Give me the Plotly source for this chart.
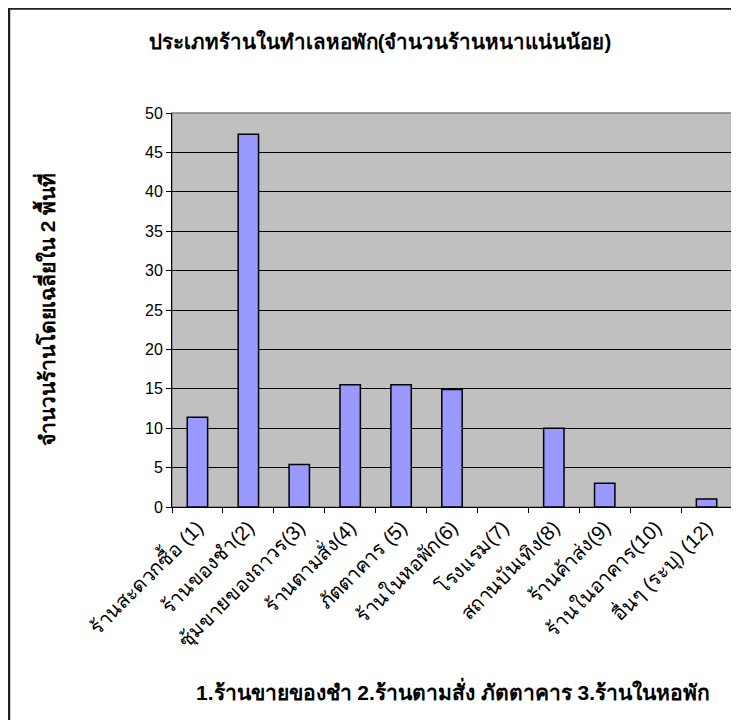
import plotly.graph_objects as go

categories = ["ร้านสะดวกซื้อ (1)", "ร้านของชำ(2)", "ซุ้มขายของถาวร(3)", "ร้านตามสั่ง(4)",
              "ภัตตาคาร (5)", "ร้านในหอพัก(6)", "โรงแรม(7)", "สถานบันเทิง(8)",
              "ร้านค้าส่ง(9)", "ร้านในอาคาร(10)", "อื่นๆ (ระบุ) (12)"]
values = [11.4, 47.3, 5.4, 15.5, 15.5, 14.9, 0, 10, 3, 0, 1]
title_text = "ประเภทร้านในทำเลหอพัก(จำนวนร้านหนาแน่นน้อย)"
ytitle = "จำนวนร้านโดยเฉลี่ยใน 2 พื้นที่"
note = "1.ร้านขายของชำ 2.ร้านตามสั่ง ภัตตาคาร 3.ร้านในหอพัก"

FONT = "Arial, Liberation Sans, sans-serif"

fig = go.Figure(go.Bar(
    x=categories, y=values, width=0.4,
    marker=dict(color="#9999FF",
                line=dict(color="black", width=[1.5 if v > 0 else 0 for v in values])),
))

OFF = 8  # page body margin
W, H = 739 - OFF, 720 - OFF
L, R, T, B = 172 - OFF, 7, 113 - OFF, 213
pw, ph = W - L - R, H - T - B

def px(x):  # reference pixel -> paper
    return (x - OFF - L) / pw

def py(y):
    return (H - B - (y - OFF)) / ph

fig.update_layout(
    width=W, height=H,
    margin=dict(l=L, r=R, t=T, b=B, autoexpand=False),
    paper_bgcolor="white", plot_bgcolor="#C0C0C0",
    showlegend=False,
    font=dict(family=FONT, size=15, color="black"),
    title=dict(text="<b>" + title_text + "</b>", x=px(380), xref="paper", xanchor="center",
               y=1 - (42 - OFF) / H, yanchor="middle", font=dict(size=20.5)),
    bargap=0.6,
)
fig.update_yaxes(range=[0, 50], dtick=5, showgrid=True, gridcolor="black", gridwidth=1,
                 ticks="outside", ticklen=5, tickcolor="black", showline=True,
                 linecolor="black", linewidth=1, zeroline=False, automargin=False,
                 tickfont=dict(size=16), fixedrange=True)
fig.update_xaxes(type="category", tickson="boundaries", ticks="outside", ticklen=5,
                 tickcolor="black", showline=True, linecolor="black", linewidth=1,
                 tickangle=-45, tickfont=dict(size=20), showgrid=False, automargin=False)

# plot-area border (top/right grey)
fig.add_shape(type="rect", xref="paper", yref="paper", x0=0, x1=1, y0=0, y1=1,
              line=dict(color="#808080", width=1.5), layer="below")
# chart outer border
fig.add_shape(type="rect", xref="paper", yref="paper", x0=px(9), x1=px(780), y0=py(780), y1=py(8.5),
              line=dict(color="#202020", width=2.5))

fig.add_annotation(text="<b>" + ytitle + "</b>", xref="paper", yref="paper",
                   x=px(45), y=py(310), textangle=-90, showarrow=False,
                   xanchor="center", yanchor="middle", font=dict(size=21))
fig.add_annotation(text="<b>" + note + "</b>", xref="paper", yref="paper",
                   x=px(453), y=py(690), showarrow=False,
                   xanchor="center", yanchor="middle", font=dict(size=21))

fig.write_html("out.html")
